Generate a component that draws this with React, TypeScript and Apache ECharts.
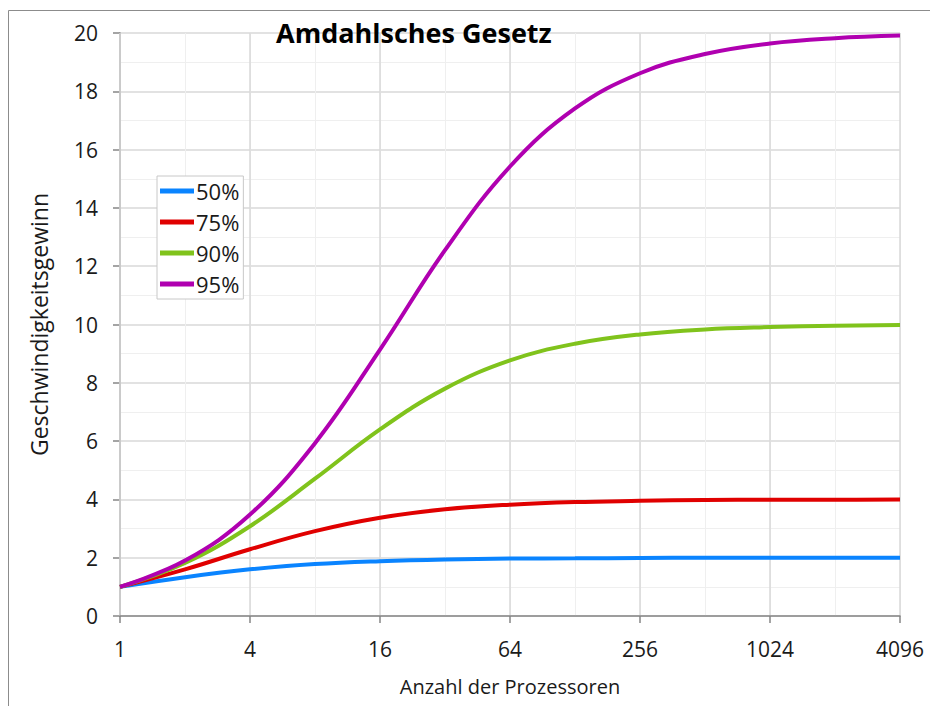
import React, { useEffect, useRef } from "react";
import * as echarts from "echarts";

const processors = [1, 2, 4, 8, 16, 32, 64, 128, 256, 512, 1024, 2048, 4096];
const seriesNames = ["50%", "75%", "90%", "95%"];
const values50 = [1, 1.33, 1.6, 1.78, 1.88, 1.94, 1.97, 1.98, 1.99, 2.0, 2.0, 2.0, 2.0];
const values75 = [1, 1.6, 2.29, 2.91, 3.37, 3.66, 3.82, 3.91, 3.95, 3.98, 3.99, 3.99, 4.0];
const values90 = [1, 1.82, 3.08, 4.71, 6.4, 7.8, 8.77, 9.34, 9.66, 9.83, 9.91, 9.96, 9.98];
const values95 = [1, 1.9, 3.48, 5.93, 9.14, 12.55, 15.42, 17.41, 18.62, 19.28, 19.64, 19.82, 19.91];
const colors = ["#0a84ff", "#e00000", "#80c31c", "#b000b0"];

const FONT = "'Open Sans', Lato, sans-serif";

export default function App() {
  const ref = useRef<HTMLDivElement>(null);
  useEffect(() => {
    if (!ref.current) return;
    const chart = echarts.init(ref.current, null, { renderer: "svg" });
    const all = [values50, values75, values90, values95];
    chart.setOption({
      animation: false,
      backgroundColor: "#ffffff",
      title: {
        text: "Amdahlsches Gesetz",
        left: 276,
        top: 19,
        padding: 0,
        textStyle: { fontFamily: FONT, fontSize: 27, fontWeight: "bold", color: "#000" },
      },
      graphic: [
        {
          type: "rect",
          left: 6,
          top: 8,
          shape: { width: 940, height: 720 },
          style: { fill: "none", stroke: "#8c8c8c", lineWidth: 1 },
          silent: true,
        },
      ],
      legend: {
        orient: "vertical",
        left: 157,
        top: 176,
        padding: [4, 4, 4, 3],
        icon: "rect",
        itemWidth: 34,
        itemHeight: 5,
        itemGap: 9,
        backgroundColor: "#ffffff",
        borderColor: "#c8c8c8",
        borderWidth: 1,
        textStyle: {
          fontFamily: FONT,
          fontSize: 22,
          lineHeight: 22,
          color: "#1a1a1a",
          padding: [0, 0, 0, -3],
        },
        data: seriesNames,
      },
      grid: { left: 120, right: 30, top: 33, bottom: 90, containLabel: false },
      xAxis: [
        {
          type: "log",
          logBase: 2,
          min: 1,
          max: 4096,
          interval: 1,
          position: "bottom",
          z: 0,
          axisLine: { show: false },
          axisTick: { show: false },
          axisLabel: { show: false },
          splitLine: { show: true, lineStyle: { color: "#efefef", width: 1 } },
        },
        {
          type: "log",
          logBase: 4,
          min: 1,
          max: 4096,
          interval: 1,
          position: "bottom",
          z: 1,
          name: "Anzahl der Prozessoren",
          nameLocation: "middle",
          nameGap: 60,
          nameTextStyle: { fontFamily: FONT, fontSize: 20, color: "#1a1a1a" },
          axisLine: { show: true, lineStyle: { color: "#868686", width: 1.5 } },
          axisTick: { show: true, length: 7, lineStyle: { color: "#868686", width: 1.5 } },
          axisLabel: {
            fontFamily: FONT,
            fontSize: 21,
            color: "#1a1a1a",
            margin: 22,
            formatter: (v: number) => String(Math.round(v)),
          },
          splitLine: { show: true, lineStyle: { color: "#d9d9d9", width: 1.5 } },
        },
      ],
      yAxis: {
        type: "value",
        min: 0,
        max: 20,
        interval: 2,
        name: "Geschwindigkeitsgewinn",
        nameLocation: "middle",
        nameGap: 70,
        nameTextStyle: { fontFamily: FONT, fontSize: 23, color: "#1a1a1a" },
        axisLine: { show: true, lineStyle: { color: "#868686", width: 1.5 } },
        axisTick: { show: true, length: 7, lineStyle: { color: "#868686", width: 1.5 } },
        axisLabel: { fontFamily: FONT, fontSize: 21, color: "#1a1a1a", margin: 22 },
        splitLine: { show: true, lineStyle: { color: "#d9d9d9", width: 1.5 } },
        minorTick: { show: false, splitNumber: 2 },
        minorSplitLine: { show: true, lineStyle: { color: "#efefef", width: 1 } },
      },
      series: seriesNames.map((name, i) => ({
        name,
        type: "line",
        xAxisIndex: 1,
        smooth: 0.4,
        symbol: "none",
        lineStyle: { color: colors[i], width: 4 },
        itemStyle: { color: colors[i] },
        data: processors.map((p, j) => [p, all[i][j]]),
      })),
    });
    return () => chart.dispose();
  }, []);
  return (
    <div
      ref={ref}
      style={{ position: "fixed", left: 0, top: 0, width: 930, height: 706 }}
    />
  );
}
